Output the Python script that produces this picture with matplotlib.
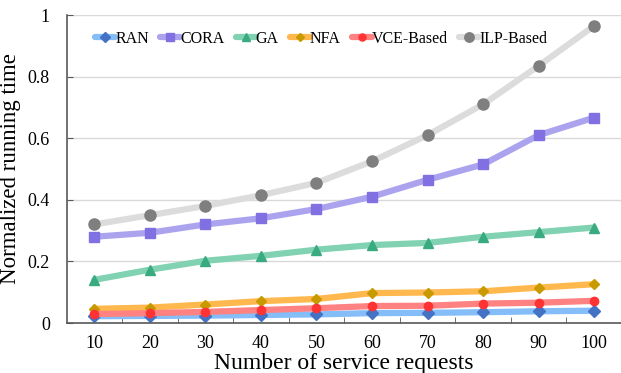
import matplotlib.pyplot as plt
import numpy as np

plt.rcParams['font.family'] = ['Liberation Serif', 'DejaVu Serif']

requests = [10, 20, 30, 40, 50, 60, 70, 80, 90, 100]

ran = [0.022, 0.023, 0.024, 0.026, 0.028, 0.032, 0.033, 0.035, 0.038, 0.040]
cora = [0.280, 0.293, 0.320, 0.340, 0.370, 0.410, 0.465, 0.515, 0.610, 0.667]
ga = [0.140, 0.173, 0.202, 0.218, 0.238, 0.253, 0.260, 0.280, 0.295, 0.310]
nfa = [0.046, 0.050, 0.060, 0.071, 0.078, 0.097, 0.099, 0.103, 0.115, 0.126]
vce = [0.029, 0.032, 0.036, 0.042, 0.048, 0.055, 0.056, 0.063, 0.066, 0.072]
ilp = [0.320, 0.350, 0.380, 0.415, 0.455, 0.525, 0.610, 0.710, 0.835, 0.965]

# (label, values, line colour, marker colour, marker, marker size)
series = [
    ("RAN", ran, "#84bdf7", "#4472c4", "D", 6),
    ("CORA", cora, "#aca3ef", "#8070e2", "s", 7),
    ("GA", ga, "#80d2b2", "#3aaa80", "^", 7),
    ("NFA", nfa, "#ffb84d", "#c89a00", "D", 5),
    ("VCE-Based", vce, "#ff8282", "#ff3333", "o", 6),
    ("ILP-Based", ilp, "#dcdcdc", "#7f7f7f", "o", 8),
]

fig = plt.figure(figsize=(6.21, 3.73), dpi=100)
ax = fig.add_axes([66.5 / 621, 50 / 373, 555.5 / 621, 308 / 373])

x = np.arange(1, len(requests) + 1)
for label, vals, lc, mc, mk, ms in series:
    ax.plot(x, vals, color=lc, lw=4.5, solid_capstyle='round', zorder=2,
            marker=mk, markersize=ms, markerfacecolor=mc, markeredgecolor=mc,
            label=label)

ax.set_xlim(0.5, len(requests) + 0.5)
ax.set_ylim(0, 1)
ax.set_xticks(x)
ax.set_xticklabels([str(r) for r in requests])
ax.set_xticks(np.arange(1.5, len(requests), 1), minor=True)
ax.set_yticks([0, 0.2, 0.4, 0.6, 0.8, 1.0])
ax.set_yticklabels(["0", "0.2", "0.4", "0.6", "0.8", "1"])

ax.tick_params(axis='x', which='major', length=0, labelsize=13, pad=9)
ax.tick_params(axis='x', which='minor', length=4, direction='in', color='#595959')
ax.tick_params(axis='y', length=4, direction='in', labelsize=13, pad=12, color='#595959')

ax.grid(axis='y', color='#d9d9d9', lw=1)
ax.set_axisbelow(True)
for s in ['top', 'right']:
    ax.spines[s].set_visible(False)
for s in ['left', 'bottom']:
    ax.spines[s].set_color('#595959')
    ax.spines[s].set_linewidth(1.2)

ax.set_xlabel("Number of service requests", fontsize=17, labelpad=0)
ax.set_ylabel("Normalized running time", fontsize=16.5, labelpad=5)

leg = ax.legend(loc='upper left', ncol=6, frameon=False, fontsize=11.5,
                handlelength=1.25, handletextpad=0.0, columnspacing=0.7,
                bbox_to_anchor=(0.026, 0.995), markerscale=0.85)

fig.savefig("out.png", dpi=100)
